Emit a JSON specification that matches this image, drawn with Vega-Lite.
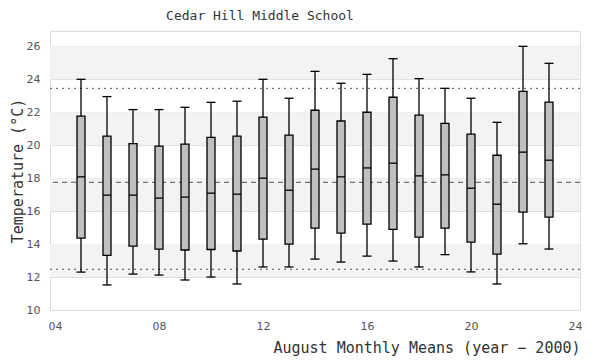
{
  "$schema": "https://vega.github.io/schema/vega-lite/v6.json",
  "autosize": "none",
  "padding": {"left": 50, "top": 31, "right": 20, "bottom": 50},
  "width": 530,
  "height": 279,
  "background": "white",
  "title": {"text": "Cedar Hill Middle School", "font": "DejaVu Sans Mono", "fontSize": 13, "fontWeight": "normal", "color": "#333", "anchor": "middle", "dx": -55, "offset": 8},
  "config": {
    "view": {"stroke": "#dddddd", "strokeWidth": 1},
    "axis": {"labelFont": "DejaVu Sans", "labelFontSize": 11, "labelColor": "#555", "titleFont": "DejaVu Sans Mono", "titleFontSize": 15, "titleFontWeight": "normal", "titleColor": "#333", "domain": false, "ticks": false, "labelOverlap": false},
    "axisY": {"grid": true, "gridColor": "#dddddd", "gridWidth": 1, "labelPadding": 10, "titlePadding": 1}
  },
  "datasets": {
    "boxes": [
      {"year": 5, "lo": 12.30, "q1": 14.36, "med": 18.08, "q3": 21.76, "hi": 24.00},
      {"year": 6, "lo": 11.52, "q1": 13.31, "med": 16.97, "q3": 20.55, "hi": 22.95},
      {"year": 7, "lo": 12.18, "q1": 13.88, "med": 16.97, "q3": 20.10, "hi": 22.16},
      {"year": 8, "lo": 12.12, "q1": 13.70, "med": 16.79, "q3": 19.94, "hi": 22.16},
      {"year": 9, "lo": 11.82, "q1": 13.64, "med": 16.85, "q3": 20.06, "hi": 22.30},
      {"year": 10, "lo": 12.00, "q1": 13.67, "med": 17.09, "q3": 20.48, "hi": 22.60},
      {"year": 11, "lo": 11.58, "q1": 13.58, "med": 17.03, "q3": 20.55, "hi": 22.67},
      {"year": 12, "lo": 12.61, "q1": 14.30, "med": 18.00, "q3": 21.70, "hi": 24.00},
      {"year": 13, "lo": 12.61, "q1": 14.00, "med": 17.27, "q3": 20.61, "hi": 22.85},
      {"year": 14, "lo": 13.09, "q1": 14.97, "med": 18.55, "q3": 22.12, "hi": 24.48},
      {"year": 15, "lo": 12.91, "q1": 14.67, "med": 18.08, "q3": 21.47, "hi": 23.76},
      {"year": 16, "lo": 13.27, "q1": 15.21, "med": 18.62, "q3": 22.00, "hi": 24.30},
      {"year": 17, "lo": 12.97, "q1": 14.89, "med": 18.91, "q3": 22.91, "hi": 25.25},
      {"year": 18, "lo": 12.61, "q1": 14.42, "med": 18.14, "q3": 21.82, "hi": 24.04},
      {"year": 19, "lo": 13.36, "q1": 14.97, "med": 18.20, "q3": 21.33, "hi": 23.45},
      {"year": 20, "lo": 12.31, "q1": 14.12, "med": 17.39, "q3": 20.67, "hi": 22.85},
      {"year": 21, "lo": 11.58, "q1": 13.39, "med": 16.42, "q3": 19.39, "hi": 21.39},
      {"year": 22, "lo": 14.02, "q1": 15.94, "med": 19.58, "q3": 23.27, "hi": 26.00},
      {"year": 23, "lo": 13.70, "q1": 15.64, "med": 19.09, "q3": 22.61, "hi": 24.97}
    ],
    "bands": [
      {"lo": 12, "hi": 14},
      {"lo": 16, "hi": 18},
      {"lo": 20, "hi": 22},
      {"lo": 24, "hi": 26}
    ],
    "dotted": [{"v": 23.45}, {"v": 12.47}],
    "dashed": [{"v": 17.75}]
  },
  "layer": [
    {
      "data": {"name": "bands"},
      "mark": {"type": "rect", "fill": "#f3f3f3"},
      "encoding": {
        "y": {"field": "lo", "type": "quantitative", "scale": {"domain": [10, 26.93], "nice": false, "zero": false}, "axis": {"values": [10, 12, 14, 16, 18, 20, 22, 24, 26], "title": "Temperature (°C)"}},
        "y2": {"field": "hi"}
      }
    },
    {
      "data": {"name": "dotted"},
      "mark": {"type": "rule", "stroke": "#555", "strokeWidth": 1, "strokeDash": [2, 4]},
      "encoding": {"y": {"field": "v", "type": "quantitative", "axis": {"values": [10, 12, 14, 16, 18, 20, 22, 24, 26], "title": "Temperature (°C)"}}}
    },
    {
      "data": {"name": "dashed"},
      "mark": {"type": "rule", "stroke": "#555", "strokeWidth": 1, "strokeDash": [5, 4]},
      "encoding": {"y": {"field": "v", "type": "quantitative", "axis": {"values": [10, 12, 14, 16, 18, 20, 22, 24, 26], "title": "Temperature (°C)"}}}
    },
    {
      "data": {"name": "boxes"},
      "layer": [
        {
          "mark": {"type": "rule", "stroke": "black", "strokeWidth": 1.3},
          "encoding": {
            "x": {"field": "year", "type": "quantitative", "scale": {"domain": [4, 24], "nice": false, "zero": false}, "axis": {"values": [4, 8, 12, 16, 20, 24], "format": "02d", "grid": false, "labelPadding": 10, "title": "August Monthly Means (year − 2000)", "titleAnchor": "end", "titlePadding": 9}},
            "y": {"field": "lo", "type": "quantitative", "axis": {"values": [10, 12, 14, 16, 18, 20, 22, 24, 26], "title": "Temperature (°C)"}},
            "y2": {"field": "hi"}
          }
        },
        {
          "mark": {"type": "bar", "fill": "#c0c0c0", "stroke": "black", "strokeWidth": 1.3, "size": 8},
          "encoding": {
            "x": {"field": "year", "type": "quantitative"},
            "y": {"field": "q1", "type": "quantitative", "axis": {"values": [10, 12, 14, 16, 18, 20, 22, 24, 26], "title": "Temperature (°C)"}},
            "y2": {"field": "q3"}
          }
        },
        {
          "mark": {"type": "tick", "orient": "horizontal", "color": "black", "size": 8, "thickness": 1.3, "opacity": 1},
          "encoding": {
            "x": {"field": "year", "type": "quantitative"},
            "y": {"field": "med", "type": "quantitative", "axis": {"values": [10, 12, 14, 16, 18, 20, 22, 24, 26], "title": "Temperature (°C)"}}
          }
        },
        {
          "mark": {"type": "tick", "orient": "horizontal", "color": "black", "size": 9, "thickness": 1.3, "opacity": 1},
          "encoding": {
            "x": {"field": "year", "type": "quantitative"},
            "y": {"field": "lo", "type": "quantitative", "axis": {"values": [10, 12, 14, 16, 18, 20, 22, 24, 26], "title": "Temperature (°C)"}}
          }
        },
        {
          "mark": {"type": "tick", "orient": "horizontal", "color": "black", "size": 9, "thickness": 1.3, "opacity": 1},
          "encoding": {
            "x": {"field": "year", "type": "quantitative"},
            "y": {"field": "hi", "type": "quantitative", "axis": {"values": [10, 12, 14, 16, 18, 20, 22, 24, 26], "title": "Temperature (°C)"}}
          }
        }
      ]
    }
  ]
}
